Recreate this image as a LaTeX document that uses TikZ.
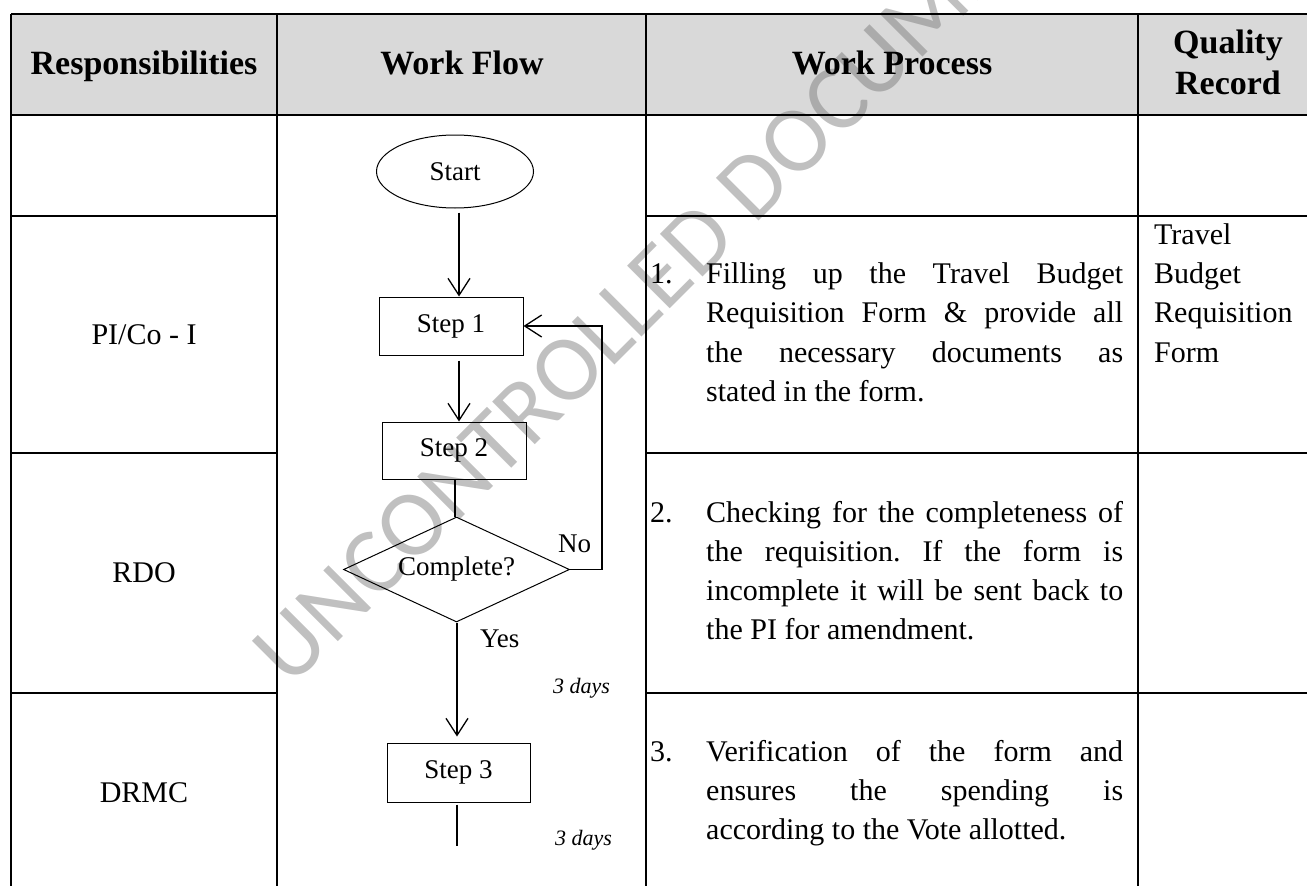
\documentclass[tikz,border=0pt]{standalone}
\usepackage{fontspec}
\setmainfont{Liberation Serif}
\newfontfamily\wmfont{Carlito}
\usetikzlibrary{shapes.geometric,arrows.meta}
\definecolor{headfill}{RGB}{217,217,217}
\definecolor{wmark}{RGB}{115,115,115}
\frenchspacing
\begin{document}
\begin{tikzpicture}[x=1pt,y=-1pt,
  tablerule/.style={line width=2pt,black},
  flowline/.style={line width=1.3pt,black},
  arr/.style={flowline,-{Straight Barb[length=17pt,width=22pt]}},
  stepbox/.style={draw,line width=1pt,inner sep=0pt,minimum width=144pt,minimum height=58pt,
    font=\fontsize{27}{32}\selectfont},
  hdr/.style={inner sep=0pt,anchor=base,font=\bfseries\fontsize{34}{41}\selectfont},
  cell/.style={inner sep=0pt,anchor=base,font=\fontsize{30}{39}\selectfont},
  body/.style={inner sep=0pt,anchor=base west,font=\fontsize{30}{39}\selectfont},
  flowlbl/.style={inner sep=0pt,anchor=base west,font=\fontsize{27}{32}\selectfont},
  days/.style={inner sep=0pt,anchor=base west,font=\itshape\fontsize{22}{26}\selectfont}]
\useasboundingbox (0,0) rectangle (1307,886);

% header band
\fill[headfill] (11,14) rectangle (1307,115);

% watermark
\node[inner sep=0pt,rotate=45,text=wmark,text opacity=0.45,font=\wmfont\fontsize{94}{94}\selectfont]
  (watermark) at (665,272) {UNCONTROLLED DOCUMENT};

% table rules
\draw[tablerule] (11,14) -- (1307,14);
\draw[tablerule] (11,115) -- (1307,115);
\foreach \yy in {216,453,693}{
  \draw[tablerule] (11,\yy) -- (277,\yy);
  \draw[tablerule] (646,\yy) -- (1307,\yy);
}
\foreach \xx in {11,277,646,1138}{
  \draw[tablerule] (\xx,14) -- (\xx,886);
}

% header texts
\node[hdr] (hResp) at (144,74) {Responsibilities};
\node[hdr] (hFlow) at (462,74) {Work Flow};
\node[hdr] (hProc) at (892,74) {Work Process};
\node[hdr] (hQual) at (1228,53) {Quality};
\node[hdr] (hRec)  at (1228,94) {Record};

% responsibilities
\node[cell] (rPI)   at (144,344) {PI/Co - I};
\node[cell] (rRDO)  at (144,582) {RDO};
\node[cell] (rDRMC) at (144,802) {DRMC};

% work process, item 1
\node[body] (n1)  at (650,283) {1.};
\node[body] (p1a) at (706,283) {\makebox[417pt][s]{Filling up the Travel Budget}};
\node[body] (p1b) at (706,322) {\makebox[417pt][s]{Requisition Form \& provide all}};
\node[body] (p1c) at (706,362) {\makebox[417pt][s]{the necessary documents as}};
\node[body] (p1d) at (706,401) {stated in the form.};

% work process, item 2
\node[body] (n2)  at (650,522) {2.};
\node[body] (p2a) at (706,522) {\makebox[417pt][s]{Checking for the completeness of}};
\node[body] (p2b) at (706,561) {\makebox[417pt][s]{the requisition. If the form is}};
\node[body] (p2c) at (706,600) {\makebox[417pt][s]{incomplete it will be sent back to}};
\node[body] (p2d) at (706,639) {the PI for amendment.};

% work process, item 3
\node[body] (n3)  at (650,761) {3.};
\node[body] (p3a) at (706,761) {\makebox[417pt][s]{Verification of the form and}};
\node[body] (p3b) at (706,800) {\makebox[417pt][s]{ensures the spending is}};
\node[body] (p3c) at (706,839) {according to the Vote allotted.};

% quality record
\node[body] (q1) at (1154,244) {Travel};
\node[body] (q2) at (1154,283) {Budget};
\node[body] (q3) at (1154,322) {Requisition};
\node[body] (q4) at (1154,362) {Form};

% flowchart
\node[draw,ellipse,line width=1pt,inner sep=0pt,minimum width=157pt,minimum height=73pt,
  font=\fontsize{27}{32}\selectfont] (start) at (455,171.5) {Start};
\node[stepbox] (step1) at (451,326) {Step 1};
\node[stepbox,minimum height=57pt] (step2) at (454,450.5) {Step 2};
\node[draw,diamond,line width=1pt,inner sep=0pt,shape aspect=2.15,minimum width=226pt,minimum height=105pt,
  font=\fontsize{27}{32}\selectfont] (chk) at (456.5,569.5) {Complete?};
\node[stepbox,minimum width=143pt,minimum height=59pt] (step3) at (458.5,772.5) {Step 3};

\coordinate (spineA) at (459,0);
\coordinate (spineB) at (455,0);
\coordinate (spineC) at (457,0);
\coordinate (loopR) at (602,0);
\coordinate (tail) at (457,846);

\draw[arr] ([yshift=-4pt]start.south -| spineA) -- (step1.north -| spineA);
\draw[arr] ([yshift=-5pt]step1.south -| spineA) -- (step2.north -| spineA);
\draw[flowline] (step2.south -| spineB) -- (chk.north -| spineB);
\draw[arr] (chk.east) -- (loopR |- chk.east) -- (loopR |- step1.east) -- (step1.east);
\draw[arr] (chk.south -| spineC) -- ([yshift=6pt]step3.north -| spineC);
\draw[flowline] ([yshift=-2pt]step3.south -| spineC) -- (tail);

\node[flowlbl] (lNo)  at (558,552) {No};
\node[flowlbl] (lYes) at (480,647) {Yes};
\node[days] (d1) at (553,693) {3 days};
\node[days] (d2) at (555,845) {3 days};
\end{tikzpicture}
\end{document}
